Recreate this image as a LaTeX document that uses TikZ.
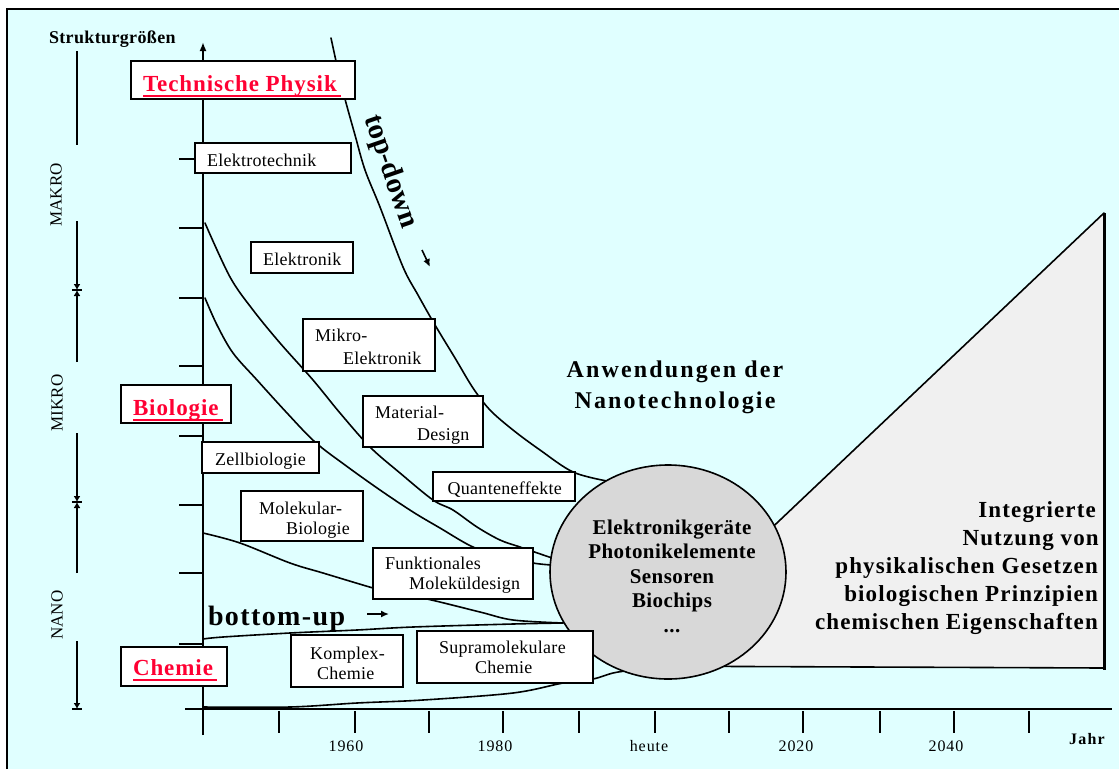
\documentclass[tikz,border=0pt]{standalone}
\usepackage{fontspec}
\setmainfont{Liberation Serif}
\usetikzlibrary{arrows.meta,shapes.geometric}
\definecolor{bgc}{RGB}{224,255,255}
\definecolor{tred}{RGB}{255,0,51}
\definecolor{circg}{RGB}{216,216,216}
\definecolor{trig}{RGB}{240,240,240}
\newcommand\fsr[2]{\fontsize{#1}{#1}\selectfont\addfontfeature{LetterSpace=#2}}
\newcommand\fsb[2]{\bfseries\fontsize{#1}{#1}\selectfont\addfontfeature{LetterSpace=#2}}
\newcommand\ulred[1]{\setbox0\hbox{#1}\rlap{\rule[-5.5pt]{\dimexpr\wd0+4pt\relax}{2pt}}\box0}
\tikzset{
  boxst/.style={draw, fill=white, line width=2pt, inner sep=0pt, outer sep=0pt, anchor=north west},
  lb/.style={inner sep=0pt, outer sep=0pt, anchor=base west},
  rg/.style={lb, font=\fsr{18}{1.5}},
  redlab/.style={lb, text=tred, font=\fsb{23}{4}},
  cv/.style={line width=1.6pt, line join=round, line cap=round},
  ax/.style={line width=2pt},
  sc/.style={line width=2pt},
  tip/.style={-{Latex[length=6pt,width=7pt]}},
  cl/.style={inner sep=0pt, anchor=base, font=\fsb{21}{2}},
  tl/.style={inner sep=0pt, anchor=base east, font=\fsb{23}{5}},
  yl/.style={inner sep=0pt, anchor=base, font=\fsr{16}{6}},
}
\begin{document}
\begin{tikzpicture}[x=1pt,y=-1pt]
\useasboundingbox (0,0) rectangle (1119,769);
\fill[white] (0,0) rectangle (1119,769);
\fill[bgc] (7,9) rectangle (1119,769);
\draw[line width=2pt] (7,769) -- (7,9) -- (1119,9);

% curves
\draw[cv] plot[smooth, tension=0.55] coordinates {(331,38) (338,70) (345,99) (355,135) (365,170) (380,207) (403,267) (418,295) (435,325) (455,358) (473,388) (490,410) (513,430) (540,450) (573,472) (607,481)};
\draw[cv] plot[smooth, tension=0.55] coordinates {(205,223) (230,277) (253,310) (280,343) (313,380) (340,413) (370,447) (400,473) (433,500) (453,510) (477,527) (500,540) (520,547) (552,558)};
\draw[cv] plot[smooth, tension=0.55] coordinates {(205,298) (217,325) (233,353) (257,380) (287,413) (315,442) (345,465) (380,490) (413,512) (440,528) (473,547) (503,556) (533,563) (552,565)};
\draw[cv] plot[smooth, tension=0.55] coordinates {(203,533) (240,543) (290,563) (323,573) (373,588) (400,595) (427,599) (480,612) (513,620) (563,623)};
\draw[cv] plot[smooth, tension=0.55] coordinates {(203,639) (223,637) (290,633) (357,630) (413,627) (513,624) (563,623)};
\draw[cv] plot[smooth, tension=0.55] coordinates {(203,707) (290,707) (357,703) (423,700) (513,693) (563,683) (593,679) (613,673) (633,670) (655,668)};

% axes
\draw[ax, -{Latex[length=9pt,width=7pt]}] (203,735) -- (203,42);
\foreach \y in {89,159,228,298,366,436,505,573,644} \draw[ax] (179,\y) -- (203,\y);
\draw[ax] (185,709) -- (1112,709);
\foreach \x in {279,355,429,503,579,655,729,803,880,954,1029} \draw[ax] (\x,711) -- (\x,733);

% left scale
\draw[sc] (77,51) -- (77,145);
\draw[sc, tip] (77,221) -- (77,290);
\draw[sc, tip] (77,362) -- (77,290);
\draw[sc] (72,290) -- (82,290);
\draw[sc, tip] (77,433) -- (77,502);
\draw[sc, tip] (77,573) -- (77,502);
\draw[sc] (72,502) -- (82,502);
\draw[sc, tip] (77,641) -- (77,709);
\draw[sc] (72,709) -- (82,709);

% triangle and circle
\draw[line width=1.6pt, fill=trig, line join=round] (626,666) -- (1104,213) -- (1104,668) -- cycle;
\draw[line width=3pt] (1104,213) -- (1104,670);
\node[draw, fill=circg, ellipse, line width=1.6pt, minimum width=236pt, minimum height=214pt, inner sep=0pt] (circ) at (668,572) {};

% boxes
\node[boxst, minimum width=224pt, minimum height=38pt] (tp) at (131,61) {};
\node[boxst, minimum width=156pt, minimum height=30pt] (et) at (195,143) {};
\node[boxst, minimum width=102pt, minimum height=31pt] (el) at (251,242) {};
\node[boxst, minimum width=132pt, minimum height=52pt] (me) at (303,319) {};
\node[boxst, minimum width=120pt, minimum height=51pt] (md) at (363,396) {};
\node[boxst, minimum width=142pt, minimum height=29pt] (qe) at (433,472) {};
\node[boxst, minimum width=117pt, minimum height=31pt] (zb) at (202,442) {};
\node[boxst, minimum width=122pt, minimum height=50pt] (mb) at (241,491) {};
\node[boxst, minimum width=160pt, minimum height=51pt] (fm) at (373,548) {};
\node[boxst, minimum width=112pt, minimum height=52pt] (kc) at (291,635) {};
\node[boxst, minimum width=176pt, minimum height=52pt] (sc) at (417,631) {};
\node[boxst, minimum width=110pt, minimum height=38pt] (bi) at (121,385) {};
\node[boxst, minimum width=106pt, minimum height=39pt] (ch) at (121,647) {};

% direction arrows
\coordinate (tdA) at (422,250);
\coordinate (tdB) at (430,267);
\draw[line width=1.6pt, -{Latex[length=8pt,width=7pt]}] (tdA) -- (tdB);
\coordinate (buA) at (367,614);
\coordinate (buB) at (389,614);
\draw[line width=1.6pt, -{Latex[length=8pt,width=7pt]}] (buA) -- (buB);

% texts
\node[lb, font=\fsb{18}{2}] (strk) at (49,43) {Strukturgrößen};
\node[redlab] (tpT) at (143,91.7) {\ulred{Technische Physik}};
\node[redlab] (biT) at (133,415) {\ulred{Biologie}};
\node[redlab] (chT) at (133,675.7) {\ulred{Chemie}};

\node[rg] (etT) at (207,166) {Elektrotechnik};
\node[rg] (elT) at (263,265.7) {Elektronik};
\node[rg] (meT1) at (315,341.7) {Mikro-};
\node[rg] (meT2) at (343,364) {Elektronik};
\node[rg] (mdT1) at (375,418.3) {Material-};
\node[rg] (mdT2) at (417,440) {Design};
\node[rg] (zbT) at (215,465.7) {Zellbiologie};
\node[rg] (qeT) at (447.7,494) {Quanteneffekte};
\node[rg] (mbT1) at (259,514) {Molekular-};
\node[rg] (mbT2) at (286,534.3) {Biologie};
\node[rg] (fmT1) at (385,569.3) {Funktionales};
\node[rg] (fmT2) at (409,589.3) {Moleküldesign};
\node[rg] (kcT1) at (310,659.3) {Komplex-};
\node[rg] (kcT2) at (317,679) {Chemie};
\node[rg] (scT1) at (439,653.3) {Supramolekulare};
\node[rg] (scT2) at (475,673.3) {Chemie};

\node[lb, font=\fsb{28}{5}] (buT) at (208,625) {bottom-up};
\node[inner sep=0pt, font=\bfseries\fontsize{29}{29}\selectfont, rotate=-71] (tdT) at (390,172) {top-down};

\node[inner sep=0pt, anchor=base, font=\fsb{24}{9}] (an1) at (675,377) {Anwendungen der};
\node[inner sep=0pt, anchor=base, font=\fsb{24}{9}] (an2) at (675,408) {Nanotechnologie};

\node[cl] (c1) at (672,534) {Elektronikgeräte};
\node[cl] (c2) at (672,558.3) {Photonikelemente};
\node[cl] (c3) at (672,583.3) {Sensoren};
\node[cl] (c4) at (672,607.7) {Biochips};
\node[cl] (c5) at (672,632) {...};

\node[tl] (t1) at (1096,517) {Integrierte};
\node[tl] (t2) at (1099,545) {Nutzung von};
\node[tl] (t3) at (1098,573) {physikalischen Gesetzen};
\node[tl] (t4) at (1098,601) {biologischen Prinzipien};
\node[tl] (t5) at (1098,629) {chemischen Eigenschaften};

\node[yl] (y1) at (346,751) {1960};
\node[yl] (y2) at (495,751) {1980};
\node[yl] (y3) at (649,751) {heute};
\node[yl] (y4) at (796,751) {2020};
\node[yl] (y5) at (946,751) {2040};
\node[lb, font=\fsb{16}{8}] (jahr) at (1069,744) {Jahr};

\node[inner sep=0pt, font=\fsr{17}{0}, rotate=90] (mak) at (56,195) {MAKRO};
\node[inner sep=0pt, font=\fsr{17}{0}, rotate=90] (mik) at (57,403) {MIKRO};
\node[inner sep=0pt, font=\fsr{17}{0}, rotate=90] (nan) at (57,615) {NANO};
\end{tikzpicture}
\end{document}
